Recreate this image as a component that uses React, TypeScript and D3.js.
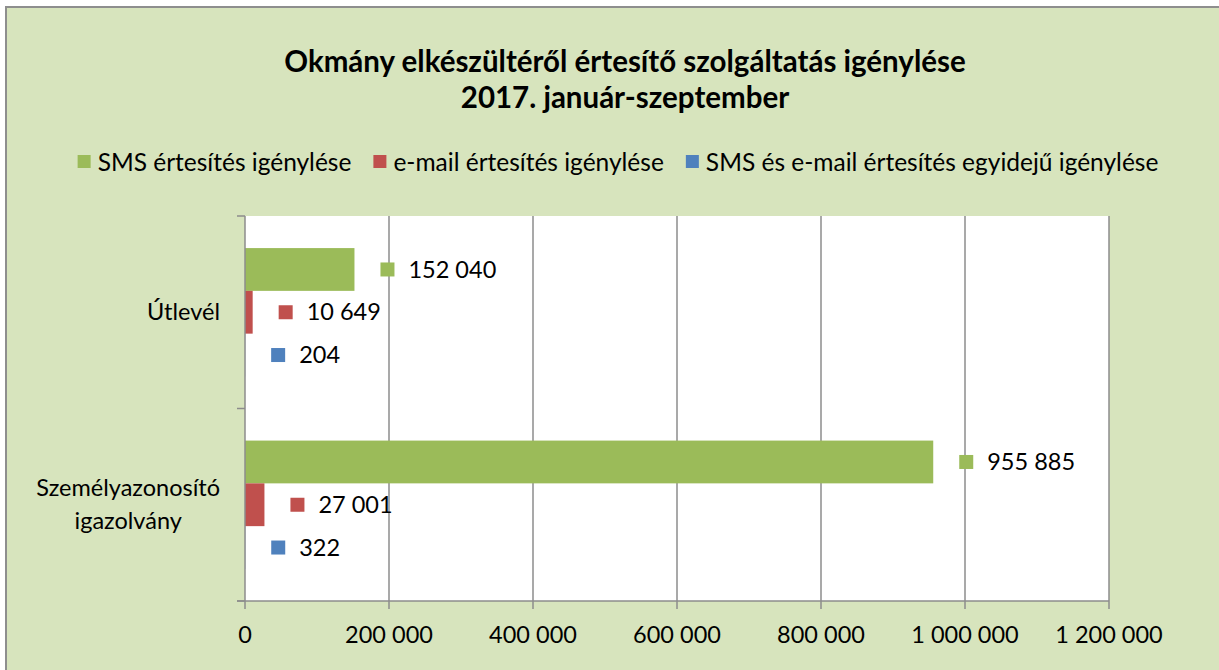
import React, { useRef, useEffect } from 'react';
import * as d3 from 'd3';

const titleLines = ['Okmány elkészültéről értesítő szolgáltatás igénylése', '2017. január-szeptember'];
const categories = ['Útlevél', 'Személyazonosító igazolvány'];
const categoryLines = [['Útlevél'], ['Személyazonosító', 'igazolvány']];
const seriesNames = [
  'SMS értesítés igénylése',
  'e-mail értesítés igénylése',
  'SMS és e-mail értesítés egyidejű igénylése',
];
const seriesColors = ['#9BBB59', '#C0504D', '#4F81BD'];
const smsValues = [152040, 955885];
const emailValues = [10649, 27001];
const bothValues = [204, 322];
const xTicks = [0, 200000, 400000, 600000, 800000, 1000000, 1200000];

const huLocale = d3.formatLocale({ decimal: ',', thousands: ' ', grouping: [3], currency: ['', ''] });
const fmt = huLocale.format(',d');

const FONT = 'Lato, Carlito, Calibri, sans-serif';
const W = 1219;
const H = 670;

const App = () => {
  const ref = useRef<SVGSVGElement>(null);

  useEffect(() => {
    const svg = d3.select(ref.current);
    svg.selectAll('*').remove();

    const margin = { top: 216, right: 110, bottom: 69, left: 245 };
    const innerW = W - margin.left - margin.right;
    const innerH = H - margin.top - margin.bottom;

    // chart background
    svg.append('rect')
      .attr('x', 6).attr('y', 7)
      .attr('width', W + 20).attr('height', H + 20)
      .attr('fill', '#D7E4BD')
      .attr('stroke', '#8E8E8E')
      .attr('stroke-width', 2);

    // title
    const title = svg.append('text')
      .attr('text-anchor', 'middle')
      .style('font-family', FONT)
      .style('font-weight', 'bold')
      .style('font-size', '29.5px')
      .attr('fill', '#000');
    titleLines.forEach((t, i) => {
      title.append('tspan').attr('x', 625).attr('y', 72 + i * 36).text(t);
    });

    // legend
    const legend = svg.append('g').style('font-family', FONT).style('font-size', '24.5px');
    const items = seriesNames.map((name, i) => {
      const g = legend.append('g');
      g.append('rect').attr('width', 13).attr('height', 13).attr('y', -7).attr('fill', seriesColors[i]);
      const t = g.append('text').attr('x', 20).attr('dy', '0.35em').text(name);
      const w = (t.node() as SVGTextElement).getComputedTextLength();
      return { g, w: 20 + w };
    });
    const gap = 22;
    const total = d3.sum(items, d => d.w) + gap * (items.length - 1);
    let lx = 618 - total / 2;
    items.forEach(it => {
      it.g.attr('transform', `translate(${lx},162)`);
      lx += it.w + gap;
    });

    const chart = svg.append('g').attr('transform', `translate(${margin.left},${margin.top})`);

    const x = d3.scaleLinear().domain([0, 1200000]).range([0, innerW]);
    const y = d3.scaleBand<string>().domain(categories).range([0, innerH]);
    const bw = y.bandwidth();
    const groupH = bw * 3 / 4.5;
    const ys = d3.scaleBand<number>().domain([0, 1, 2]).range([(bw - groupH) / 2, (bw + groupH) / 2]);

    chart.append('rect').attr('width', innerW).attr('height', innerH).attr('fill', '#fff');

    // gridlines
    chart.selectAll('.grid')
      .data(xTicks.slice(1))
      .join('line')
      .attr('x1', d => x(d)).attr('x2', d => x(d))
      .attr('y1', 0).attr('y2', innerH)
      .attr('stroke', '#8C8C8C').attr('stroke-width', 1.5);

    // bars + data labels
    const series = [smsValues, emailValues, bothValues];
    categories.forEach((cat, ci) => {
      series.forEach((vals, si) => {
        const v = vals[ci];
        const by = (y(cat) as number) + (ys(si) as number);
        const bh = ys.bandwidth();
        chart.append('rect')
          .attr('x', 0).attr('y', by)
          .attr('width', x(v)).attr('height', bh)
          .attr('fill', seriesColors[si]);
        const lx0 = x(v) + 26;
        const cy = by + bh / 2;
        chart.append('rect')
          .attr('x', lx0).attr('y', cy - 7)
          .attr('width', 14).attr('height', 14)
          .attr('fill', seriesColors[si]);
        chart.append('text')
          .attr('x', lx0 + 28).attr('y', cy).attr('dy', '0.35em')
          .style('font-family', FONT).style('font-size', '23.5px')
          .text(fmt(v));
      });
    });

    // y axis
    chart.append('line')
      .attr('x1', 0).attr('x2', 0).attr('y1', 0).attr('y2', innerH)
      .attr('stroke', '#8C8C8C').attr('stroke-width', 1.5);
    const yEdges = [0, ...categories.map(c => (y(c) as number) + bw)];
    chart.selectAll('.ytick')
      .data(yEdges)
      .join('line')
      .attr('x1', -8).attr('x2', 0)
      .attr('y1', d => d).attr('y2', d => d)
      .attr('stroke', '#8C8C8C').attr('stroke-width', 1.5);

    // category labels (centered block, right-aligned to the axis)
    categories.forEach((cat, ci) => {
      const lines = categoryLines[ci];
      const cy = (y(cat) as number) + bw / 2;
      const t = chart.append('text')
        .attr('text-anchor', 'middle')
        .style('font-family', FONT).style('font-size', '23.5px');
      const lh = 33;
      lines.forEach((ln, li) => {
        t.append('tspan')
          .attr('x', 0)
          .attr('y', cy + (li - (lines.length - 1) / 2) * lh)
          .attr('dy', '0.35em')
          .text(ln);
      });
      const w = (t.node() as SVGTextElement).getBBox().width;
      t.attr('transform', `translate(${-25 - w / 2},0)`);
    });

    // x axis
    chart.append('line')
      .attr('x1', -8).attr('x2', innerW).attr('y1', innerH).attr('y2', innerH)
      .attr('stroke', '#8C8C8C').attr('stroke-width', 1.5);
    chart.selectAll('.xtick')
      .data(xTicks)
      .join('line')
      .attr('x1', d => x(d)).attr('x2', d => x(d))
      .attr('y1', innerH).attr('y2', innerH + 8)
      .attr('stroke', '#8C8C8C').attr('stroke-width', 1.5);
    chart.selectAll('.xlabel')
      .data(xTicks)
      .join('text')
      .attr('x', d => x(d)).attr('y', innerH + 34).attr('dy', '0.35em')
      .attr('text-anchor', 'middle')
      .style('font-family', FONT).style('font-size', '23.5px')
      .text(d => fmt(d));
  }, []);

  return (
    <svg
      ref={ref}
      width={W}
      height={H}
      style={{ position: 'absolute', left: 0, top: 0, background: '#fff' }}
    />
  );
};

export default App;
